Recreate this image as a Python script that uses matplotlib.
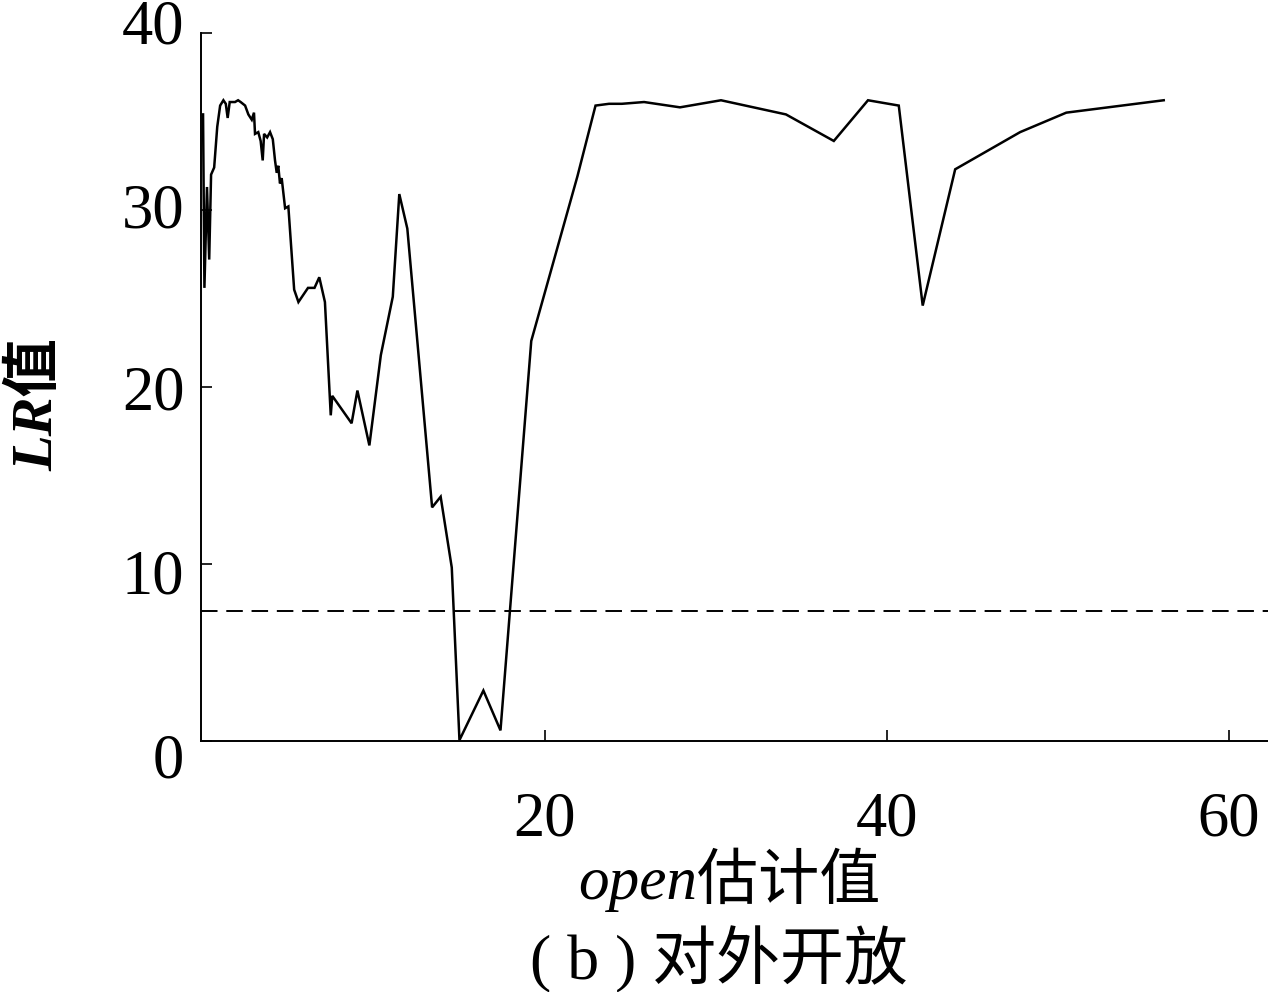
import matplotlib
matplotlib.use("Agg")
import matplotlib.pyplot as plt
from matplotlib.transforms import ScaledTranslation

plt.rcParams['font.family'] = ['Liberation Serif', 'Noto Sans CJK SC', 'DejaVu Sans']

# ---- data ----
open_vals = [0.0, 0.08, 0.23, 0.36, 0.47, 0.65, 0.83, 1.0, 1.19, 1.33, 1.44, 1.56,
             1.87, 2.05, 2.2, 2.46, 2.65, 2.85, 2.98, 3.04, 3.23, 3.37, 3.49, 3.57,
             3.75, 3.92, 4.08, 4.21, 4.31, 4.4, 4.5, 4.6, 4.8, 4.99, 5.33, 5.58,
             6.14, 6.52, 6.8, 7.13, 7.47, 7.56, 8.69, 9.03, 9.73, 10.4, 11.1, 11.48,
             11.95, 13.4, 13.9, 14.55, 15.0, 16.4, 17.4, 19.2, 21.9, 22.96, 23.75,
             24.5, 25.8, 27.9, 30.3, 34.1, 36.9, 38.9, 40.7, 42.1, 44.0, 47.8, 50.5,
             56.2]
lr_vals = [35.4, 25.6, 31.3, 27.2, 32.0, 32.4, 34.7, 35.9, 36.2, 36.0, 35.2, 36.1,
           36.1, 36.2, 36.1, 35.9, 35.4, 35.1, 35.5, 34.3, 34.4, 33.9, 32.8, 34.3,
           34.1, 34.4, 34.0, 32.8, 32.1, 32.5, 31.5, 31.8, 30.1, 30.2, 25.5, 24.8,
           25.6, 25.6, 26.2, 24.8, 18.4, 19.5, 17.95, 19.8, 16.7, 21.8, 25.1, 30.9,
           28.95, 13.2, 13.8, 9.8, 0.05, 2.85, 0.6, 22.6, 31.9, 35.9, 36.0,
           36.0, 36.1, 35.8, 36.2, 35.4, 33.9, 36.2, 35.9, 24.6, 32.3, 34.4, 35.5,
           36.2]
critical_value = 7.35
xticks = [20, 40, 60]
yticks = [0, 10, 20, 30, 40]
xlabel = 'open估计值'
ylabel = 'LR值'
caption = '( b ) 对外开放'

W, H = 1268, 992
fig = plt.figure(figsize=(W / 100, H / 100), dpi=100)
ax = fig.add_axes([201 / W, 251 / H, (W - 201) / W, 708 / H])

ax.plot(open_vals, lr_vals, color='black', lw=1.8, solid_joinstyle='miter')
ax.axhline(critical_value, color='black', lw=1.4, linestyle=(0, (8.5, 4.5)))

ax.set_xlim(-0.12, 62.3)
ax.set_ylim(0, 40)
ax.set_xticks(xticks)
ax.set_yticks(yticks)

for s in ('top', 'right'):
    ax.spines[s].set_visible(False)
for s in ('left', 'bottom'):
    ax.spines[s].set_linewidth(1.4)

ax.tick_params(axis='both', direction='in', length=8, width=1.2, labelsize=45)
ax.tick_params(axis='x', pad=36)
ax.tick_params(axis='y', pad=12)
for lab in ax.get_xticklabels() + ax.get_yticklabels():
    lab.set_fontfamily(['Liberation Serif'])

# the reference's y tick labels sit slightly off their ticks (spread wider)
y_label_shift_px = [14, 7.5, 1, -5, -12]
for lab, dy in zip(ax.get_yticklabels(), y_label_shift_px):
    lab.set_transform(lab.get_transform() +
                      ScaledTranslation(0, -dy / 100, fig.dpi_scale_trans))

fig.text(729 / W, 1 - 880 / H, xlabel, ha='center', va='center', fontsize=44,
         fontstyle='italic')
fig.text(719 / W, 1 - 960 / H, caption, ha='center', va='center', fontsize=46)
fig.text(37 / W, 1 - 405 / H, ylabel, ha='center', va='center', fontsize=42,
         rotation=90, fontstyle='italic', fontweight='bold')

fig.savefig('out.png', dpi=100)
